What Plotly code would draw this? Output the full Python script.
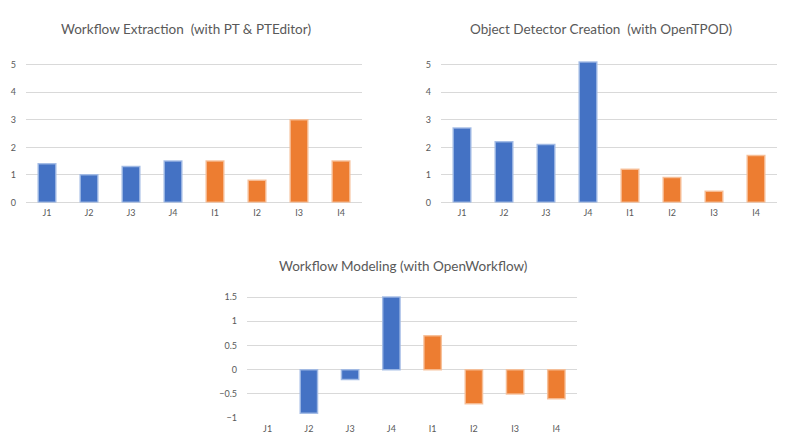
import plotly.graph_objects as go

categories = ["J1", "J2", "J3", "J4", "I1", "I2", "I3", "I4"]
extraction = [1.4, 1.0, 1.3, 1.5, 1.5, 0.8, 3.0, 1.5]
detector = [2.7, 2.2, 2.1, 5.1, 1.2, 0.9, 0.4, 1.7]
modeling = [0.0, -0.9, -0.2, 1.5, 0.7, -0.7, -0.5, -0.6]
titles = ["Workflow Extraction  (with PT & PTEditor)",
          "Object Detector Creation  (with OpenTPOD)",
          "Workflow Modeling (with OpenWorkflow)"]

W, H = 789, 443
YS = 0.985  # vertical correction measured on the rendered page
BLUE, ORANGE = "#4472C4", "#ED7D31"
BLUE_EDGE, ORANGE_EDGE = "rgba(160,185,228,0.9)", "rgba(246,190,150,0.9)"
FONT = "Lato"
GREY = "#595959"

def fx(px):
    return px / W

def fy(py):
    return 1 - py / (H * YS)

colors = [BLUE if c.startswith("J") else ORANGE for c in categories]
edges = [BLUE_EDGE if c.startswith("J") else ORANGE_EDGE for c in categories]

fig = go.Figure()

panels = [
    (extraction, "", (26, 362), (56.5, 200), [0, 5.2], 1, (186, 26.5)),
    (detector, "2", (441, 777), (56.5, 200), [0, 5.2], 1, (601, 26.5)),
    (modeling, "3", (247, 577), (292.5, 416.5), [-1, 1.55], 0.5, (403, 264)),
]

for i, (vals, ax, xd, yd, yr, dt, tp) in enumerate(panels):
    fig.add_trace(go.Bar(
        x=categories, y=vals,
        marker=dict(color=colors,
                    line=dict(color=edges, width=[0 if v == 0 else 1.5 for v in vals])),
        width=0.42,
        xaxis="x" + ax, yaxis="y" + ax,
        showlegend=False,
        hoverinfo="x+y",
    ))
    fig.update_layout(**{
        "xaxis" + ax: dict(
            domain=[fx(xd[0]), fx(xd[1])],
            anchor="y" + ax,
            showgrid=False, showline=False, zeroline=False,
            ticks="", tickfont=dict(family=FONT, size=9, color=GREY),
            ticklabelstandoff=4,
            fixedrange=True,
        ),
        "yaxis" + ax: dict(
            domain=[fy(yd[1]), fy(yd[0])],
            anchor="x" + ax,
            range=yr, dtick=dt, tick0=0,
            showgrid=True, gridcolor="#D9D9D9", gridwidth=1,
            zeroline=True, zerolinecolor="#D9D9D9", zerolinewidth=1,
            showline=False, ticks="",
            tickfont=dict(family=FONT, size=9, color=GREY),
            ticklabelstandoff=9,
            fixedrange=True,
        ),
    })
    fig.add_annotation(
        text=titles[i], x=fx(tp[0]), y=fy(tp[1]), xref="paper", yref="paper",
        showarrow=False, xanchor="center", yanchor="middle",
        font=dict(family=FONT, size=13.5, color=GREY),
    )

fig.update_layout(
    width=W, height=H,
    margin=dict(l=0, r=0, t=0, b=0),
    paper_bgcolor="white", plot_bgcolor="white",
    bargap=0.58,
)

fig.write_html(
    "out.html",
    config={"displayModeBar": False},
    post_script="document.body.style.margin='0';document.body.style.overflow='hidden';",
)
